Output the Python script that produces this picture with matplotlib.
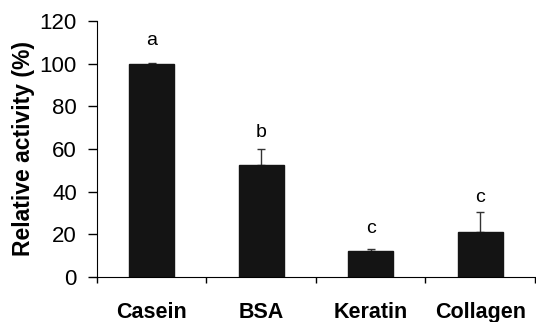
import numpy as np
from matplotlib import pyplot as plt

plt.rcParams['font.family'] = ['Liberation Sans', 'DejaVu Sans']

substrates = ['Casein', 'BSA', 'Keratin', 'Collagen']
activity = [100, 52.5, 12.3, 21.1]
err_up = [0.5, 7.5, 0.8, 9.5]
letters = ['a', 'b', 'c', 'c']
letter_y = [111, 67.5, 22.5, 37]

fig = plt.figure(figsize=(5.36, 3.22), dpi=100)
ax = fig.add_axes([0.181, 0.14, 0.817, 0.795])

x = np.arange(len(substrates))
ax.bar(x, activity, width=0.41, color='#141414', edgecolor='#141414', zorder=2)
ax.errorbar(x, activity, yerr=[np.zeros(len(x)), err_up], fmt='none',
            ecolor='#333333', elinewidth=1, capsize=3, capthick=1, zorder=1)

for xi, lab, ly in zip(x, letters, letter_y):
    ax.text(xi, ly, lab, ha='center', va='center', fontsize=14)

ax.set_xlim(-0.5, len(x) - 0.5)
ax.set_ylim(0, 120)
ax.set_yticks(range(0, 121, 20))
ax.set_xticks(np.arange(-0.5, len(x), 1.0))
ax.set_xticklabels([])
ax.set_xticks(x, minor=True)
ax.set_xticklabels(substrates, minor=True, fontsize=15.5, fontweight='bold')
ax.tick_params(axis='x', which='minor', length=0, pad=18)
ax.tick_params(axis='x', which='major', length=4.5, direction='out', width=1)
ax.tick_params(axis='y', length=6.5, width=1, labelsize=16, pad=8)

ax.spines['top'].set_visible(False)
ax.spines['right'].set_visible(False)
ax.set_ylabel('Relative activity (%)', fontsize=16.5, fontweight='bold', labelpad=3)

savefig_name = 'out.png'
fig.savefig(savefig_name, dpi=100)
